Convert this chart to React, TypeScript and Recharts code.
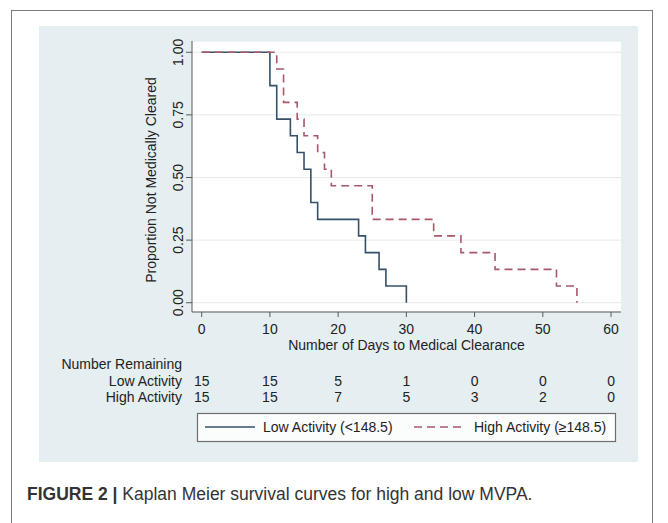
import React from 'react';
import { LineChart, Line, XAxis, YAxis, CartesianGrid } from 'recharts';

const lowDays = [0, 10, 11, 13, 14, 15, 16, 17, 23, 24, 26, 27, 30];
const lowSurv = [1, 0.867, 0.733, 0.667, 0.6, 0.533, 0.4, 0.333, 0.267, 0.2, 0.133, 0.067, 0];
const highDays = [0, 11, 12, 14, 15, 17, 18, 19, 25, 34, 38, 43, 52, 55];
const highSurv = [1, 0.933, 0.8, 0.733, 0.667, 0.6, 0.533, 0.467, 0.333, 0.267, 0.2, 0.133, 0.067, 0];
const xTicks = [0, 10, 20, 30, 40, 50, 60];
const yTicks = [0, 0.25, 0.5, 0.75, 1];
const lowRemaining = [15, 15, 5, 1, 0, 0, 0];
const highRemaining = [15, 15, 7, 5, 3, 2, 0];

const lowData = lowDays.map((t, i) => ({ t, s: lowSurv[i] }));
const highData = highDays.map((t, i) => ({ t, s: highSurv[i] }));

const FONT = '"Liberation Sans", Arial, Helvetica, sans-serif';
const TEXT = '#222';
const AXIS = '#5a5a5a';
const LOW_COLOR = '#34506a';
const HIGH_COLOR = '#a8586a';
const xDomain: [number, number] = [-1.42, 61.46];
const yDomain: [number, number] = [-0.037, 1.045];

const YTick = (props: any) => {
  const { x, y, payload } = props;
  return (
    <text
      x={x}
      y={y}
      transform={`rotate(-90, ${x}, ${y})`}
      textAnchor="middle"
      fontSize={14}
      fontFamily={FONT}
      fill={TEXT}
    >
      {Number(payload.value).toFixed(2)}
    </text>
  );
};

// x tick label plus the two "number remaining" rows, all placed at the scale position of the tick
const XTick = (props: any) => {
  const { x, y, payload } = props;
  const i = xTicks.indexOf(payload.value);
  const common = { x, textAnchor: 'middle' as const, fontSize: 14, fontFamily: FONT, fill: TEXT };
  return (
    <g>
      <text {...common} y={y + 10}>
        {payload.value}
      </text>
      <text {...common} y={y + 62}>
        {lowRemaining[i]}
      </text>
      <text {...common} y={y + 78}>
        {highRemaining[i]}
      </text>
    </g>
  );
};

export default function App() {
  return (
    <div
      style={{
        position: 'absolute',
        left: 0,
        top: 0,
        width: 668,
        height: 523,
        overflow: 'hidden',
        background: '#ffffff',
        fontFamily: FONT,
      }}
    >
      <div
        style={{
          position: 'absolute',
          left: 11,
          top: 10,
          width: 642,
          height: 540,
          border: '1.5px solid #7a7a7a',
          boxSizing: 'border-box',
        }}
      />
      <div
        style={{
          position: 'absolute',
          left: 39,
          top: 26,
          width: 599,
          height: 436,
          background: '#e5eef1',
        }}
      />
      <div style={{ position: 'absolute', left: 0, top: 0 }}>
        <LineChart width={668} height={523} margin={{ top: 41, right: 47, bottom: 151, left: 0 }}>
          <CartesianGrid
            vertical={false}
            stroke="#e4eaed"
            strokeWidth={1}
            fill="#ffffff"
            fillOpacity={1}
          />
          <XAxis
            type="number"
            dataKey="t"
            domain={xDomain}
            allowDataOverflow
            ticks={xTicks}
            interval={0}
            height={60}
            tickSize={5}
            tickMargin={7}
            stroke={AXIS}
            tick={<XTick />}
          />
          <YAxis
            type="number"
            domain={yDomain}
            allowDataOverflow
            ticks={yTicks}
            interval={0}
            width={192}
            tickSize={6}
            tickMargin={3}
            stroke={AXIS}
            tick={<YTick />}
          />
          <Line
            data={lowData}
            dataKey="s"
            type="stepAfter"
            stroke={LOW_COLOR}
            strokeWidth={1.6}
            dot={false}
            activeDot={false}
            isAnimationActive={false}
          />
          <Line
            data={highData}
            dataKey="s"
            type="stepAfter"
            stroke={HIGH_COLOR}
            strokeWidth={1.6}
            strokeDasharray="8 5"
            dot={false}
            activeDot={false}
            isAnimationActive={false}
          />
        </LineChart>
      </div>
      <svg
        width={668}
        height={523}
        style={{ position: 'absolute', left: 0, top: 0, pointerEvents: 'none' }}
        fontFamily={FONT}
      >
        <text
          x={155.5}
          y={180}
          transform="rotate(-90, 155.5, 180)"
          textAnchor="middle"
          fontSize={14}
          fill={TEXT}
        >
          Proportion Not Medically Cleared
        </text>
        <text x={406.5} y={350} textAnchor="middle" fontSize={14} fill={TEXT}>
          Number of Days to Medical Clearance
        </text>
        <text x={182} y={369} textAnchor="end" fontSize={14} fill={TEXT}>
          Number Remaining
        </text>
        <text x={182} y={386} textAnchor="end" fontSize={14} fill={TEXT}>
          Low Activity
        </text>
        <text x={182} y={402} textAnchor="end" fontSize={14} fill={TEXT}>
          High Activity
        </text>
        <rect x={197.5} y={413.5} width={418} height={28} fill="#fbfcfc" stroke="#6e6e6e" strokeWidth={1.2} />
        <line x1={205} y1={427} x2={255} y2={427} stroke={LOW_COLOR} strokeWidth={1.6} />
        <text x={263} y={432} fontSize={14} fill={TEXT}>
          Low Activity (&lt;148.5)
        </text>
        <line x1={414} y1={427} x2={463} y2={427} stroke={HIGH_COLOR} strokeWidth={1.6} strokeDasharray="8 5" />
        <text x={474} y={432} fontSize={14} fill={TEXT}>
          High Activity (≥148.5)
        </text>
        <text x={27} y={500} fontSize={17.5} fill="#333">
          <tspan fontWeight="bold">FIGURE 2 | </tspan>
          <tspan>Kaplan Meier survival curves for high and low MVPA.</tspan>
        </text>
      </svg>
    </div>
  );
}
